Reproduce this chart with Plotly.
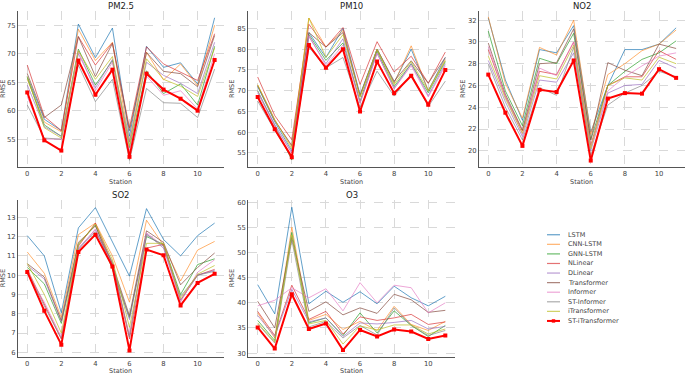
import plotly.graph_objects as go

stations = list(range(12))
models = ["LSTM", "CNN-LSTM", "GNN-LSTM", "NLinear", "DLinear", "Transformer",
          "Informer", "ST-Informer", "iTransformer", "ST-iTransformer"]
colors = ["rgba(31,119,180,0.7)", "rgba(255,127,14,0.6)", "rgba(44,160,44,0.7)",
          "rgba(214,39,40,0.65)", "rgba(148,103,189,0.65)", "rgba(140,86,75,0.75)",
          "rgba(227,119,194,0.65)", "rgba(127,127,127,0.65)", "rgba(188,189,34,0.7)",
          "#ff0000"]

pm25 = [
    [66.0, 58.5, 56.5, 75.2, 69.3, 74.5, 55.5, 71.3, 67.6, 68.4, 64.7, 76.3],
    [65.5, 58.0, 56.3, 74.3, 68.8, 72.0, 54.5, 70.3, 65.4, 68.2, 64.4, 75.0],
    [65.8, 57.5, 55.5, 70.8, 64.5, 68.8, 53.5, 67.0, 63.0, 64.7, 61.0, 71.3],
    [68.0, 59.0, 56.5, 73.0, 68.0, 71.9, 57.0, 71.2, 68.2, 66.7, 65.3, 73.5],
    [64.5, 57.2, 55.5, 70.0, 64.0, 69.0, 54.5, 68.5, 66.2, 64.8, 63.0, 72.0],
    [66.5, 58.8, 61.0, 73.0, 66.0, 71.8, 56.5, 70.2, 66.9, 66.5, 64.2, 73.2],
    [62.5, 55.0, 55.0, 70.5, 63.5, 68.5, 53.0, 66.1, 62.7, 63.5, 60.3, 70.0],
    [61.0, 55.2, 55.0, 68.0, 61.6, 65.5, 51.3, 63.9, 61.4, 61.3, 58.8, 67.3],
    [66.0, 57.0, 55.2, 70.5, 65.5, 69.5, 53.8, 69.1, 65.5, 64.3, 62.5, 71.0],
    [63.2, 54.8, 53.0, 68.8, 62.8, 67.2, 51.9, 66.5, 63.7, 62.1, 60.0, 68.9],
]
pm10 = [
    [71.0, 62.5, 55.5, 84.0, 78.0, 85.0, 69.0, 80.0, 72.0, 80.0, 70.0, 78.0],
    [71.4, 63.0, 56.5, 87.5, 80.5, 84.5, 68.5, 79.8, 71.8, 80.8, 70.0, 77.5],
    [70.0, 61.5, 53.3, 83.5, 77.3, 81.5, 67.5, 79.5, 71.0, 76.5, 69.5, 77.0],
    [73.3, 64.0, 58.2, 86.0, 80.5, 85.2, 71.5, 81.8, 74.5, 78.3, 71.8, 79.3],
    [69.5, 61.8, 55.0, 83.0, 76.5, 82.5, 67.0, 79.0, 70.5, 76.5, 68.8, 76.5],
    [71.2, 62.8, 56.8, 84.0, 80.5, 84.0, 68.8, 80.0, 72.3, 77.2, 71.8, 78.0],
    [69.8, 61.5, 55.0, 83.3, 76.0, 81.0, 67.0, 79.0, 70.5, 76.0, 68.5, 76.0],
    [67.5, 60.5, 54.0, 80.5, 75.5, 78.0, 66.0, 74.7, 68.7, 74.0, 66.2, 72.3],
    [71.4, 63.0, 56.0, 87.5, 78.0, 83.5, 68.5, 80.0, 71.5, 77.0, 70.0, 77.2],
    [68.5, 60.7, 54.0, 81.0, 75.5, 80.0, 65.0, 77.0, 69.4, 73.6, 66.6, 75.0],
]
no2 = [
    [32.2, 26.5, 22.8, 29.3, 29.0, 31.5, 21.7, 26.0, 29.3, 29.3, 29.8, 31.3],
    [32.3, 26.2, 23.0, 29.5, 28.8, 32.0, 21.5, 27.0, 28.0, 29.2, 29.8, 31.1],
    [31.0, 25.5, 22.3, 28.5, 28.0, 30.8, 21.0, 26.0, 27.3, 28.4, 29.0, 30.1],
    [29.3, 25.0, 21.8, 27.3, 27.0, 30.0, 20.5, 26.0, 26.8, 26.8, 29.2, 28.4],
    [28.3, 24.5, 21.3, 26.5, 26.3, 29.0, 20.0, 25.3, 26.0, 26.1, 28.3, 27.6],
    [29.9, 25.2, 21.9, 28.0, 28.1, 31.2, 21.0, 28.1, 27.4, 26.9, 29.8, 29.4],
    [29.6, 25.0, 21.5, 27.6, 26.9, 30.0, 20.3, 25.5, 26.8, 27.8, 28.7, 29.0],
    [28.0, 24.0, 21.0, 25.8, 25.1, 29.5, 19.6, 24.2, 25.3, 26.0, 27.3, 26.8],
    [28.7, 24.8, 21.6, 26.9, 26.6, 29.7, 20.2, 26.0, 26.7, 26.5, 28.6, 28.0],
    [27.0, 23.5, 20.45, 25.6, 25.4, 28.3, 19.1, 24.8, 25.3, 25.25, 27.5, 26.7],
]
so2 = [
    [12.05, 11.0, 8.05, 12.45, 13.5, 11.7, 9.95, 13.45, 11.85, 11.0, 12.05, 12.7],
    [11.2, 10.1, 7.8, 12.1, 12.7, 11.0, 8.6, 12.85, 11.55, 9.7, 11.3, 11.75],
    [10.4, 9.55, 7.5, 11.6, 12.6, 10.3, 7.8, 12.0, 11.6, 9.0, 10.55, 10.85],
    [10.3, 8.5, 6.7, 11.5, 12.7, 10.6, 6.7, 11.4, 11.6, 8.7, 10.0, 10.3],
    [10.5, 9.8, 7.6, 11.4, 12.35, 10.5, 7.7, 12.15, 11.4, 8.7, 10.0, 10.25],
    [10.6, 9.9, 7.65, 11.7, 12.55, 10.55, 7.9, 12.3, 11.7, 9.5, 10.4, 11.15],
    [10.1, 8.6, 6.8, 11.3, 12.4, 10.5, 6.9, 12.2, 11.5, 8.6, 10.15, 10.8],
    [10.2, 8.4, 6.7, 11.35, 12.25, 10.7, 6.8, 12.1, 11.5, 8.9, 10.0, 10.2],
    [10.6, 9.0, 7.0, 11.6, 12.65, 10.8, 7.3, 11.65, 11.65, 8.8, 10.05, 10.5],
    [10.17, 8.15, 6.4, 11.2, 12.1, 10.45, 6.1, 11.33, 11.03, 8.43, 9.6, 10.07],
]
o3 = [
    [43.6, 37.8, 59.0, 39.8, 42.3, 40.1, 42.2, 39.8, 43.3, 41.0, 39.4, 41.3],
    [38.0, 33.0, 55.0, 36.5, 37.7, 34.7, 36.3, 34.5, 39.3, 35.7, 34.5, 36.3],
    [36.5, 32.5, 54.0, 36.0, 37.0, 33.5, 38.0, 34.0, 38.4, 35.5, 33.3, 35.5],
    [38.3, 33.5, 43.5, 36.7, 38.3, 33.8, 37.2, 36.5, 37.0, 37.7, 35.7, 36.2],
    [37.5, 33.3, 42.7, 36.2, 37.0, 33.3, 36.0, 35.8, 36.1, 36.5, 34.8, 35.3],
    [40.3, 35.0, 53.0, 38.3, 40.2, 37.6, 39.0, 37.9, 41.7, 40.6, 38.1, 38.5],
    [39.4, 40.5, 43.0, 41.0, 42.8, 38.4, 44.0, 40.0, 43.5, 43.0, 38.0, 40.0],
    [35.8, 32.0, 52.5, 35.2, 36.3, 33.0, 35.5, 33.6, 39.0, 35.5, 33.5, 34.5],
    [36.0, 32.2, 53.5, 35.8, 36.5, 31.8, 35.4, 34.6, 35.6, 35.6, 33.8, 34.8],
    [35.1, 30.9, 41.7, 34.8, 35.9, 30.6, 34.6, 33.3, 34.7, 34.3, 32.8, 33.5],
]

W, H = 685, 374
panels = [
    # title, data, x px [l, r], y px [top, bottom], x range, y range, y ticks, ylabel x px
    ("PM2.5", pm25, (17.9, 224.0), (10, 167), (-0.55, 11.55), (50.1, 77.5), [55, 60, 65, 70, 75], 3),
    ("PM10", pm10, (248.3, 454.7), (10, 167), (-0.55, 11.55), (51.6, 89.2), [55, 60, 65, 70, 75, 80, 85], 232),
    ("NO2", no2, (478.9, 685.0), (10, 167), (-0.55, 11.52), (18.5, 32.85), [20, 22, 24, 26, 28, 30, 32], 463),
    ("SO2", so2, (17.9, 224.0), (200, 357.7), (-0.55, 11.55), (5.77, 13.9), [6, 7, 8, 9, 10, 11, 12, 13], 3),
    ("O3", o3, (248.3, 454.7), (200, 357.7), (-0.55, 11.55), (29.27, 60.45), [30, 35, 40, 45, 50, 55, 60], 232),
]

fig = go.Figure()
annotations = []
font_family = "DejaVu Sans"
axis_font = dict(family=font_family, size=6.8, color="#444")

for i, (title, data, xp, yp, xr, yr, yt, ylab_x) in enumerate(panels):
    n = i + 1
    xa = "x" if n == 1 else f"x{n}"
    ya = "y" if n == 1 else f"y{n}"
    for m, (name, col) in enumerate(zip(models, colors)):
        is_best = name == "ST-iTransformer"
        fig.add_trace(go.Scatter(
            x=stations, y=data[m], name=name, xaxis=xa, yaxis=ya,
            mode="lines+markers" if is_best else "lines",
            line=dict(color=col, width=2 if is_best else 1),
            marker=dict(size=4, color=col, symbol="square") if is_best else None,
            showlegend=False,
        ))
    dom_x = [xp[0] / W, xp[1] / W]
    dom_y = [1 - yp[1] / H, 1 - yp[0] / H]
    common = dict(showgrid=True, gridcolor="#d9d9d9", griddash="dash", gridwidth=0.8,
                  showline=True, linecolor="#555", linewidth=1, ticks="",
                  tickfont=axis_font, zeroline=False)
    fig.update_layout(**{
        ("xaxis" if n == 1 else f"xaxis{n}"): dict(
            domain=dom_x, anchor=ya, range=list(xr), tickvals=[0, 2, 4, 6, 8, 10], **common),
        ("yaxis" if n == 1 else f"yaxis{n}"): dict(
            domain=dom_y, anchor=xa, range=list(yr), tickvals=yt, **common),
    })
    cx = (xp[0] + xp[1]) / 2
    annotations.append(dict(text=title, x=cx / W, y=1 - (yp[0] - 5) / H, xref="paper", yref="paper",
                            showarrow=False, xanchor="center", yanchor="middle",
                            font=dict(family=font_family, size=8.5, color="#222")))
    annotations.append(dict(text="Station", x=cx / W, y=1 - (yp[1] + 14.5) / H, xref="paper", yref="paper",
                            showarrow=False, xanchor="center", yanchor="middle",
                            font=dict(family=font_family, size=6.5, color="#444")))
    annotations.append(dict(text="RMSE", x=ylab_x / W, y=1 - ((yp[0] + yp[1]) / 2) / H,
                            xref="paper", yref="paper", showarrow=False, textangle=-90,
                            xanchor="center", yanchor="middle",
                            font=dict(family=font_family, size=6.5, color="#444")))

# compact legend in the empty sixth cell
shapes = []
leg_y0, leg_dy = 235.0, 9.63
for m, (name, col) in enumerate(zip(models, colors)):
    yy = 1 - (leg_y0 + m * leg_dy) / H
    shapes.append(dict(type="line", xref="paper", yref="paper", x0=547 / W, x1=560 / W, y0=yy, y1=yy,
                       line=dict(color=col, width=2 if name == "ST-iTransformer" else 1.2)))
    if name == "ST-iTransformer":
        shapes.append(dict(type="rect", xref="paper", yref="paper",
                           x0=551.8 / W, x1=555.2 / W, y0=yy - 1.7 / H, y1=yy + 1.7 / H,
                           fillcolor=col, line=dict(width=0)))
    annotations.append(dict(text=name, x=566 / W, y=yy, xref="paper", yref="paper", showarrow=False,
                            xanchor="left", yanchor="middle",
                            font=dict(family=font_family, size=6.5, color="#444")))

fig.update_layout(width=W, height=H, margin=dict(l=0, r=0, t=0, b=0),
                  paper_bgcolor="white", plot_bgcolor="white", showlegend=False,
                  annotations=annotations, shapes=shapes)

fig.write_html("out.html", config={"displayModeBar": False},
               post_script="document.body.style.margin='0';document.body.style.overflow='hidden';")
